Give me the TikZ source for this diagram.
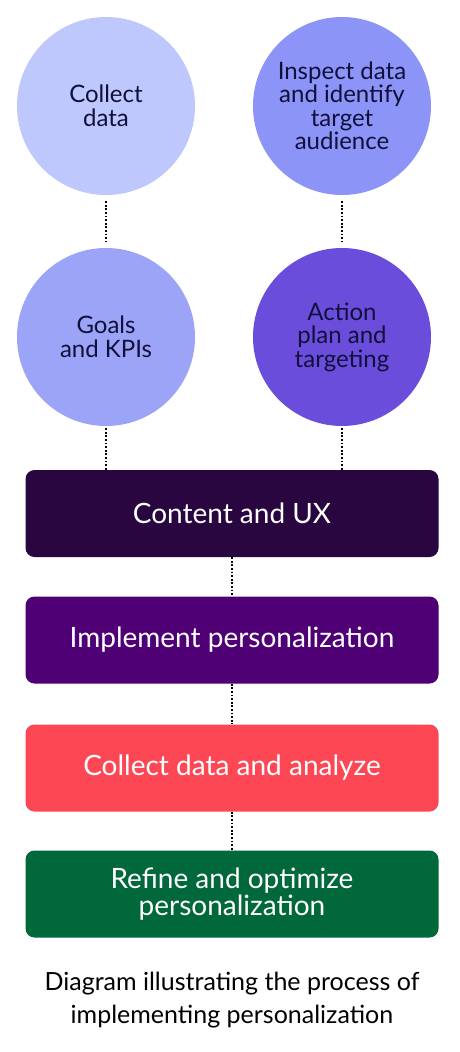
\documentclass[tikz,border=0pt]{standalone}
\usepackage{fontspec}
\setmainfont{Lato}
\definecolor{cA}{HTML}{BFC8FD}
\definecolor{cB}{HTML}{8C94F8}
\definecolor{cC}{HTML}{9CA4F8}
\definecolor{cD}{HTML}{6A4EDB}
\definecolor{bA}{HTML}{29063F}
\definecolor{bB}{HTML}{4E0074}
\definecolor{bC}{HTML}{FD4755}
\definecolor{bD}{HTML}{00683A}
\definecolor{ink}{HTML}{10103A}
\begin{document}
\begin{tikzpicture}[x=1pt,y=-1pt,
  circ/.style={circle,minimum size=178pt,inner sep=0pt,align=center,text=ink,font=\fontsize{24}{23.5}\selectfont},
  boxx/.style={rounded corners=9pt,minimum width=413pt,minimum height=87pt,inner sep=0pt,align=center,text=white,font=\fontsize{28}{27}\selectfont},
  dots/.style={draw=black,line width=1.8pt,dash pattern=on 1.8pt off 1.8pt}]
\useasboundingbox (0,0) rectangle (460,1052);
\fill[white] (0,0) rectangle (460,1052);
\node[circ,fill=cA] (c1) at (106,106) {Collect\\data};
\node[circ,fill=cB] (c2) at (342,106) {Inspect data\\and identify\\target\\audience};
\node[circ,fill=cC] (c3) at (106,337) {Goals\\and KPIs};
\node[circ,fill=cD] (c4) at (342,337) {Action\\plan and\\targeting};
\node[boxx,fill=bA] (b1) at (232,513.5) {Content and UX};
\node[boxx,fill=bB] (b2) at (232,640) {Implement personalization};
\node[boxx,fill=bC] (b3) at (232,768) {Collect data and analyze};
\node[boxx,fill=bD] (b4) at (232,894) {Refine and optimize\\personalization};
\node[align=center,font=\fontsize{25}{33}\selectfont,text=black] (cap) at (232,1000) {Diagram illustrating the process of\\implementing personalization};
\coordinate (p1) at (106,470);
\coordinate (p2) at (342,470);
\draw[dots,shorten >=6pt,shorten <=6pt] (c1) -- (c3);
\draw[dots,shorten >=6pt,shorten <=6pt] (c2) -- (c4);
\draw[dots,shorten <=2pt] (c3.south) -- (p1);
\draw[dots,shorten <=2pt] (c4.south) -- (p2);
\draw[dots] (b1.south) -- (b2.north);
\draw[dots] (b2.south) -- (b3.north);
\draw[dots] (b3.south) -- (b4.north);
\end{tikzpicture}
\end{document}
